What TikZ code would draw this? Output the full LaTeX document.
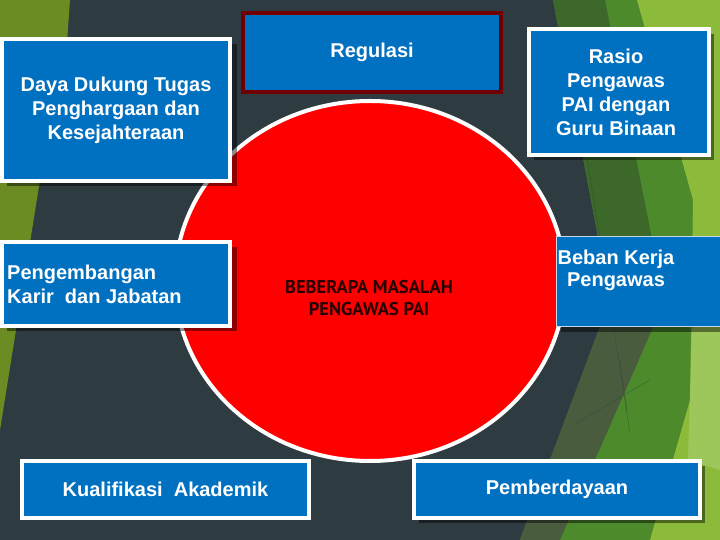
\documentclass[tikz,border=0pt]{standalone}
\usepackage{fontspec}
\setmainfont{Liberation Sans}
\newfontfamily\judulfont{PT Sans}
\usepackage{xcolor}
\usepackage{tikz}

\definecolor{latar}{RGB}{46,59,65}
\definecolor{biru}{RGB}{0,112,192}
\definecolor{merah}{RGB}{255,0,0}
\definecolor{marun}{RGB}{112,0,0}
\definecolor{gelap}{RGB}{40,0,0}
\definecolor{zaitun}{RGB}{107,140,35}
\definecolor{hijautua}{RGB}{60,104,42}
\definecolor{hijau}{RGB}{77,138,44}
\definecolor{hijaumuda}{RGB}{140,187,60}
\definecolor{hijaupucat}{RGB}{165,205,105}
\definecolor{kelabu}{RGB}{74,92,62}
\definecolor{garisbeban}{RGB}{200,216,232}

\begin{document}
\begin{tikzpicture}[x=1pt, y=1pt,
  bayang/.style={fill=black, opacity=0.45},
  kotak/.style={draw=white, line width=4pt, fill=biru},
  tulisan/.style={text=white, font=\fontsize{20}{24}\selectfont\bfseries, align=center, inner sep=0pt}]
\useasboundingbox (0,0) rectangle (720,540);
\fill [latar] (0,0) rectangle (720,540);

% sisi kiri
\fill [zaitun] (0,540) -- (70,540) -- (63,440) -- (40,360) -- (0,110) -- cycle;

% sisi kanan
\fill [hijau] (553,540) -- (720,540) -- (720,0) -- (520,0) -- (610,240) -- cycle;
\fill [hijautua] (553,540) -- (605,540) -- (660,260) -- (610,240) -- cycle;
\fill [kelabu] (610,240) -- (665,240) -- (560,0) -- (520,0) -- cycle;
\fill [hijaumuda] (637,540) -- (720,540) -- (720,0) -- (650,0) -- (690,140) -- (693,340) -- cycle;
\fill [hijaupucat, opacity=0.7] (692,210) -- (720,240) -- (720,70) -- (688,80) -- cycle;
\draw [latar, opacity=0.4, line width=0.6pt] (587,383) -- (630,107);
\draw [latar, opacity=0.4, line width=0.6pt] (573,115) -- (650,160);
\draw [latar, opacity=0.4, line width=0.6pt] (620,180) -- (627,130);

% lingkaran tengah
\draw [draw=white, line width=4pt, fill=merah] (370,259) ellipse (195 and 180);
\node [text=gelap, font=\judulfont\bfseries\fontsize{18.5}{22}\selectfont, align=center] (masalah) at (369,242) {BEBERAPA MASALAH\\PENGAWAS PAI};

% kotak kiri atas
\fill [bayang] (7,354) rectangle (237,496);
\draw [kotak] (2,359) rectangle (230,501) node[pos=.5, tulisan] (daya) {Daya Dukung Tugas\\Penghargaan dan\\Kesejahteraan};

% kotak atas
\draw [draw=marun, line width=4pt, fill=biru] (243,448) rectangle (501,527) node[pos=.5, tulisan] (regulasi) {Regulasi};

% kotak kanan atas
\fill [bayang] (534,380) rectangle (714,506);
\draw [kotak] (529,385) rectangle (709,511) node[pos=.5, xshift=-3pt, tulisan] (rasio) {Rasio\\Pengawas\\PAI dengan\\Guru Binaan};

% kotak kiri tengah
\fill [bayang] (7,209) rectangle (237,293);
\draw [kotak] (2,214) rectangle (230,298);
\node [tulisan, align=left, anchor=west] (karir) at (7,256) {Pengembangan\\Karir\ \ dan Jabatan};

% kotak kanan tengah
\fill [bayang] (561,208) rectangle (725,298);
\draw [draw=garisbeban, line width=1pt, fill=biru] (556.5,213.5) rectangle (730,303.5);
\node [tulisan, font=\fontsize{20}{22}\selectfont\bfseries] (beban) at (616,270) {Beban Kerja\\Pengawas};

% kotak bawah
\draw [kotak] (22,22) rectangle (309,79) node[pos=.5, tulisan] (kualifikasi) {Kualifikasi\ \ Akademik};
\fill [bayang] (419,17) rectangle (705,74);
\draw [kotak] (414,22) rectangle (700,79) node[pos=.5, tulisan] (pemberdayaan) {Pemberdayaan};
\end{tikzpicture}
\end{document}
